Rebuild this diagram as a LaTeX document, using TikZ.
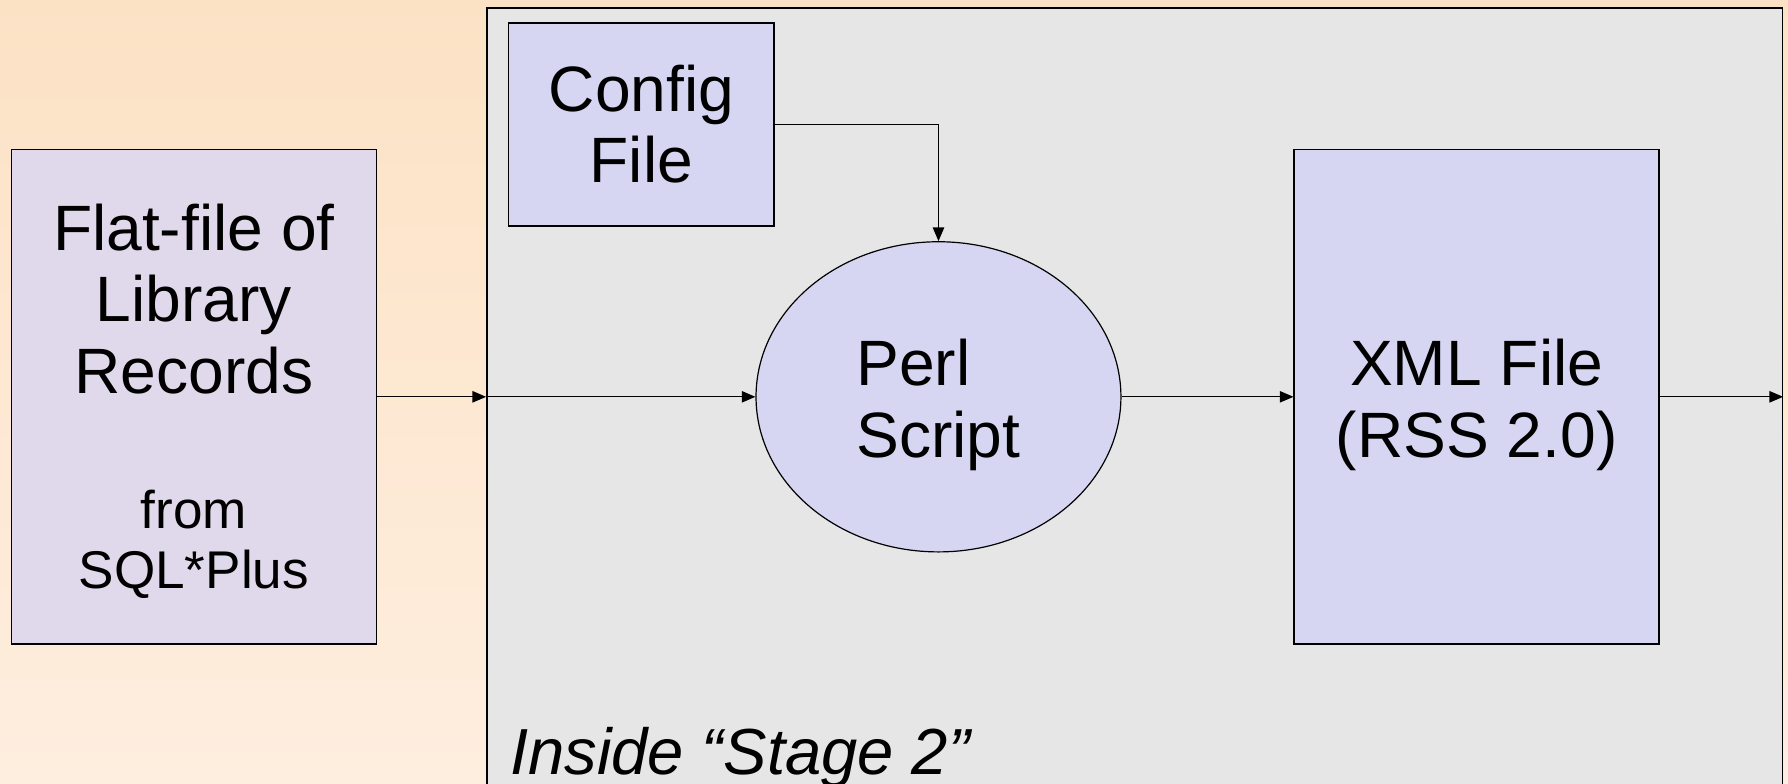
\documentclass[tikz,border=0pt]{standalone}
\usepackage{fontspec}
\setmainfont{Liberation Sans}
\usetikzlibrary{arrows.meta,shapes.geometric,positioning}

\definecolor{peachtop}{HTML}{FCE2C5}
\definecolor{peachbottom}{HTML}{FEEEDF}
\definecolor{stagegray}{HTML}{E6E6E6}
\definecolor{filelav}{HTML}{D6D6F2}
\definecolor{flatlav}{HTML}{E0D8EB}

\begin{document}
\begin{tikzpicture}[
    >={Triangle[length=2.4mm,width=2mm]},
    big/.style={font=\fontsize{32}{35.7}\selectfont},
    small/.style={font=\fontsize{26.5}{30}\selectfont},
    filebox/.style={draw, line width=0.8pt, fill=filelav, inner sep=0pt, align=center, big},
    flow/.style={->, line width=0.6pt}]
%      \draw[help lines] (0,0) grid (32,14);

      \useasboundingbox (0,0) rectangle (31.36,13.74);
      \shade[top color=peachtop, bottom color=peachbottom] (0,0) rectangle (31.36,13.74);

      % outer stage
      \node[draw, line width=0.8pt, fill=stagegray, minimum width=22.72cm, minimum height=14.6cm, inner sep=0pt] (stage) at (19.9,6.3) {};
      \node[anchor=base west, inner sep=0pt, font=\fontsize{32.5}{36}\selectfont\itshape] (caption) at (8.94,0.16) {Inside “Stage 2”};

      % input file
      \node[draw, line width=0.8pt, fill=flatlav, minimum width=6.4cm, minimum height=8.68cm, inner sep=0pt] (flat) at (3.4,6.78) {};
      \node[big, align=center, inner sep=0pt] (flattxt) at (3.4,8.5) {Flat-file of\\Library\\Records};
      \node[small, align=center, inner sep=0pt] (srctxt) at (3.4,4.2) {from\\SQL*Plus};

      % inside stage 2
      \node[filebox, minimum width=4.66cm, minimum height=3.56cm] (config) at (11.25,11.56) {Config\\File};
      \node[ellipse, draw, line width=0.6pt, fill=filelav, inner sep=0pt, minimum width=6.4cm, minimum height=5.44cm] (perl) at (16.46,6.78) {};
      \node[big, align=left, inner sep=0pt] (perltxt) at ([yshift=-0.14cm]perl.center) {Perl\\Script};
      \node[filebox, minimum width=6.4cm, minimum height=8.68cm] (xml) at (25.9,6.78) {};
      \node[big, align=center, inner sep=0pt] (xmltxt) at ([yshift=-0.14cm]xml.center) {XML File\\(RSS 2.0)};

      \coordinate (inlet)  at (flat.east -| stage.west);
      \coordinate (outlet) at (xml.east -| stage.east);

      \draw[flow] (flat) -- (inlet);
      \draw[flow] (inlet) -- (perl);
      \draw[flow] (config.east) -| (perl.north);
      \draw[flow] (perl) -- (xml);
      \draw[flow] (xml) -- (outlet);
\end{tikzpicture}
\end{document}
